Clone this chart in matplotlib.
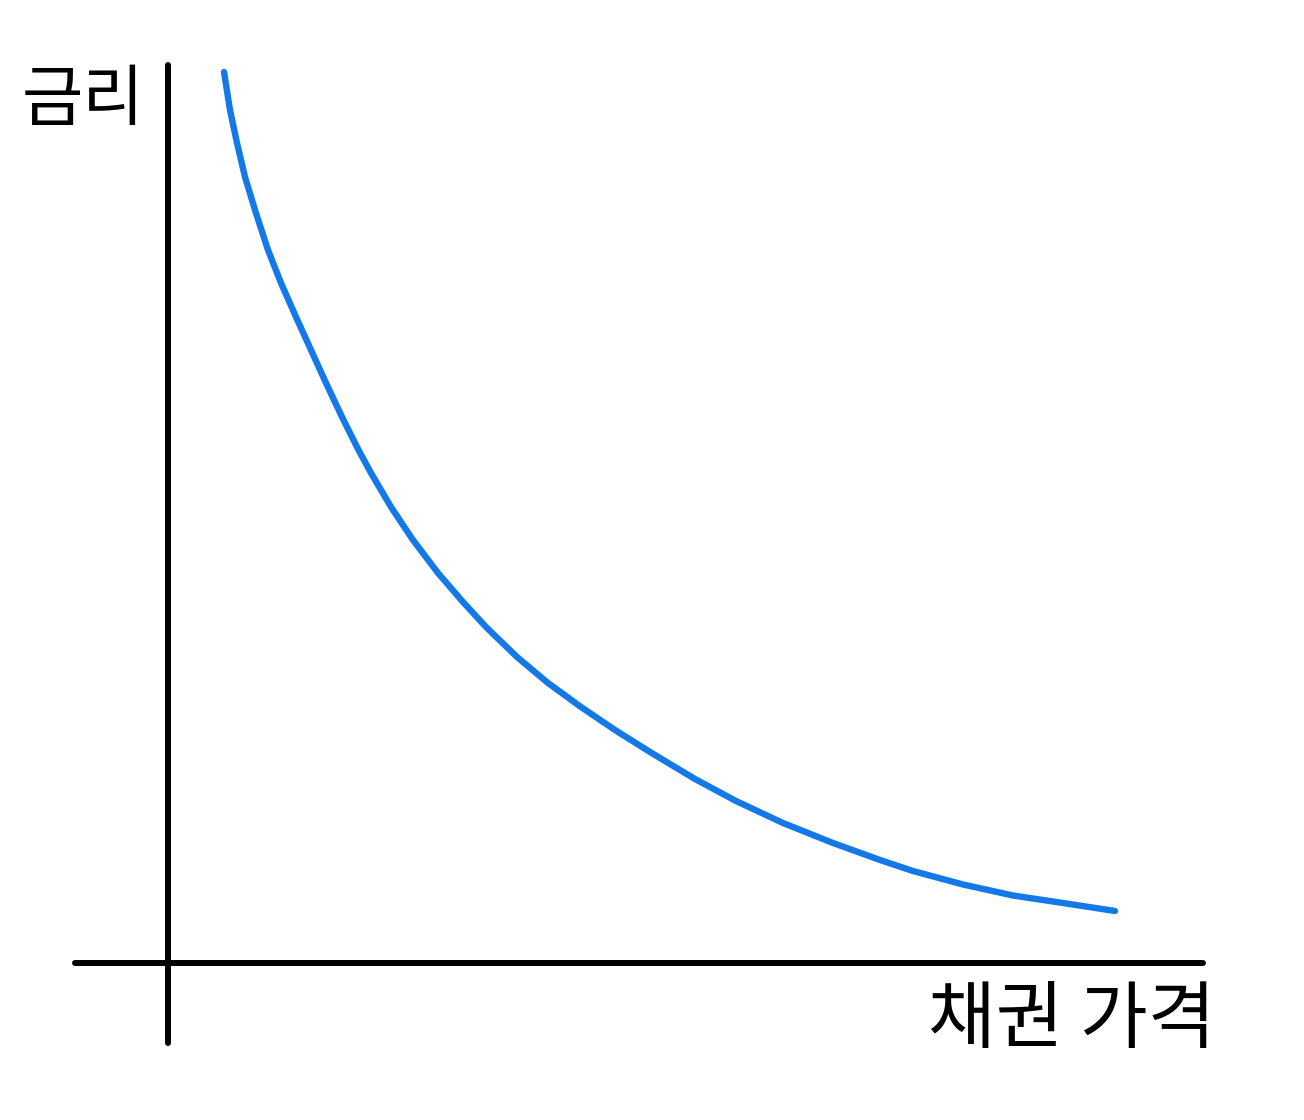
import matplotlib
matplotlib.use("Agg")
import matplotlib.pyplot as plt

plt.rcParams['font.family'] = ['Noto Sans CJK KR', 'DejaVu Sans']

# bond price (x) vs interest rate (y)
price = [0.56, 0.62, 0.69, 0.77, 0.87, 1.00, 1.13, 1.28, 1.43, 1.58, 1.74,
         1.905, 2.03, 2.23, 2.45, 2.70, 2.95, 3.18, 3.49, 3.80, 4.13, 4.47,
         4.82, 5.27, 5.68, 6.15, 6.65, 7.12, 7.45, 7.95, 8.45, 8.95, 9.47]
rate = [8.91, 8.53, 8.20, 7.86, 7.53, 7.13, 6.80, 6.46, 6.13, 5.80, 5.46,
        5.13, 4.90, 4.56, 4.23, 3.90, 3.61, 3.36, 3.06, 2.80, 2.56, 2.33,
        2.11, 1.84, 1.62, 1.40, 1.20, 1.03, 0.92, 0.785, 0.675, 0.60, 0.52]

y_label = '금리'
x_label = '채권 가격'

fig = plt.figure(figsize=(13.04, 11.2), dpi=100)
ax = fig.add_axes([0, 0, 1, 1])
ax.set_xlim(-1.68, 11.36)
ax.set_ylim(-1.57, 9.63)

ax.plot(price, rate, color='#1479e8', linewidth=4.6,
        solid_capstyle='round', solid_joinstyle='round')

# axes drawn as crossing lines through the origin
for side in ['top', 'right']:
    ax.spines[side].set_visible(False)
ax.spines['left'].set_position(('data', 0))
ax.spines['bottom'].set_position(('data', 0))
ax.spines['left'].set_bounds(-0.80, 8.98)
ax.spines['bottom'].set_bounds(-0.93, 10.35)
for side in ['left', 'bottom']:
    ax.spines[side].set_linewidth(4.3)
    ax.spines[side].set_color('black')
    ax.spines[side].set_capstyle('round')
ax.set_xticks([])
ax.set_yticks([])

ax.text(-1.46, 8.43, y_label, fontsize=48, ha='left', va='baseline')
ax.text(10.48, -0.79, x_label, fontsize=53, ha='right', va='baseline')

fig.savefig('out.png', dpi=100, facecolor='white')
